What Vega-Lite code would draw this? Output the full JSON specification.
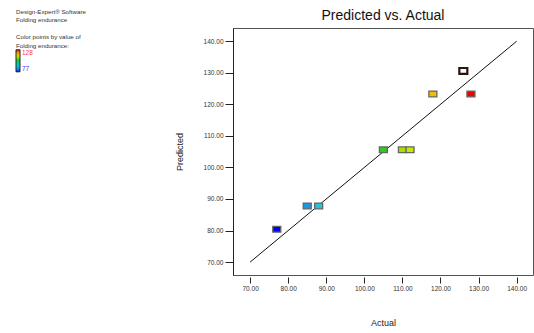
{
  "$schema": "https://vega.github.io/schema/vega-lite/v6.json",
  "width": 300,
  "height": 247,
  "autosize": "none",
  "padding": {"left": 233, "top": 28, "right": 1, "bottom": 58},
  "background": "white",
  "config": {
    "font": "Liberation Sans",
    "view": {"stroke": "#555", "strokeWidth": 1},
    "axis": {"grid": false, "labelFont": "Liberation Sans", "titleFont": "Liberation Sans", "labelColor": "#333", "titleColor": "#222", "titleFontWeight": "normal", "domainColor": "#222", "tickColor": "#222", "labelFontSize": 6.5, "titleFontSize": 9}
  },
  "title": {"text": "Predicted vs. Actual", "fontSize": 14, "fontWeight": "normal", "font": "Liberation Sans", "color": "#111", "offset": 4, "dy": 18, "anchor": "middle"},
  "datasets": {
    "pts": [
      {"actual": 77, "predicted": 80.4, "n": 1},
      {"actual": 85, "predicted": 87.8, "n": 1},
      {"actual": 88, "predicted": 87.8, "n": 1},
      {"actual": 105, "predicted": 105.6, "n": 1},
      {"actual": 110, "predicted": 105.6, "n": 1},
      {"actual": 112, "predicted": 105.6, "n": 1},
      {"actual": 118, "predicted": 123.3, "n": 1},
      {"actual": 128, "predicted": 123.3, "n": 1},
      {"actual": 126, "predicted": 130.6, "n": 2}
    ],
    "fit": [
      {"actual": 70, "predicted": 70},
      {"actual": 140, "predicted": 140}
    ]
  },
  "encoding": {
    "x": {"field": "actual", "type": "quantitative", "scale": {"domain": [65.5, 144.3], "nice": false, "zero": false},
      "axis": {"title": "Actual", "values": [70, 80, 90, 100, 110, 120, 130, 140], "format": ".2f", "offset": 2, "tickSize": 6, "labelPadding": 2, "titlePadding": 27, "domain": false, "labelOverlap": false}},
    "y": {"field": "predicted", "type": "quantitative", "scale": {"domain": [65.9, 144.2], "nice": false, "zero": false},
      "axis": {"title": "Predicted", "values": [70, 80, 90, 100, 110, 120, 130, 140], "format": ".2f", "tickSize": 8, "labelPadding": 2, "titlePadding": 19, "labelOverlap": false}}
  },
  "layer": [
    {
      "data": {"name": "fit"},
      "mark": {"type": "line", "color": "#111", "strokeWidth": 1}
    },
    {
      "data": {"name": "pts"},
      "transform": [{"filter": "datum.n == 1"}],
      "mark": {"type": "point", "shape": "M-1,-0.72H1V0.72H-1Z", "size": 64, "filled": true, "opacity": 1, "stroke": "#666", "strokeWidth": 1.3},
      "encoding": {
        "fill": {"field": "actual", "type": "quantitative",
          "scale": {"domain": [77, 85, 88, 105, 110, 112, 118, 128], "range": ["#0000ff", "#1e96e6", "#28c3d7", "#2ecc1a", "#a8e000", "#c8e800", "#f5bd00", "#ee0000"]},
          "legend": {
            "orient": "none", "legendX": -217, "legendY": -19,
            "title": ["Design-Expert® Software", "Folding endurance", "\u2800", "Color points by value of", "Folding endurance:"],
            "titleFontSize": 6.2, "titleFontWeight": "normal", "titleColor": "#333", "titleLineHeight": 8.4, "titlePadding": 1, "titleFont": "Liberation Sans",
            "gradientLength": 22, "gradientThickness": 4, "gradientStrokeColor": "#222", "gradientStrokeWidth": 1,
            "values": [77, 128], "labelFontSize": 6.5, "labelOffset": 2,
            "labelColor": {"expr": "datum.value > 100 ? '#ff3b3b' : '#3b3bff'"}
          }
        }
      }
    },
    {
      "data": {"name": "pts"},
      "transform": [{"filter": "datum.n > 1"}],
      "mark": {"type": "point", "shape": "M-1,-0.72H1V0.72H-1Z", "size": 64, "filled": true, "opacity": 1, "fill": "white", "stroke": "#2a1510", "strokeWidth": 2.2}
    }
  ]
}
